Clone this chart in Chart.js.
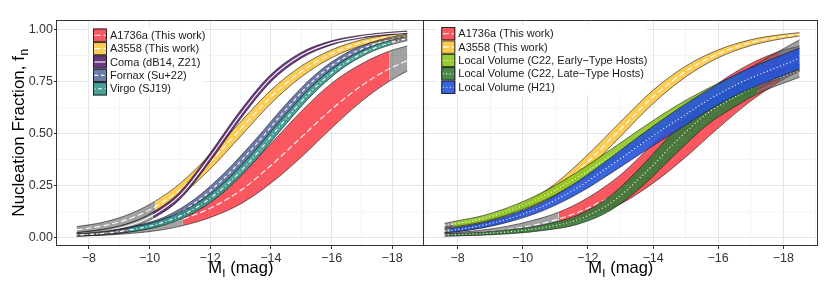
<!DOCTYPE html>
<html><head><meta charset="utf-8">
<script src="https://cdn.jsdelivr.net/npm/chart.js"></script>
<style>
html,body{margin:0;padding:0;background:#fff;}
#wrap{position:relative;width:830px;height:281px;overflow:hidden;background:#fff;}
canvas{position:absolute;top:0;}
</style></head><body>
<div id="wrap">
<canvas id="cL" width="430" height="281" style="left:0;width:430px;height:281px"></canvas>
<canvas id="cR" width="407" height="281" style="left:423px;width:407px;height:281px"></canvas>
</div>
<script>
// ---------- tick values ----------
const X_TICKS = [-7,-8,-9,-10,-11,-12,-13,-14,-15,-16,-17,-18,-19];
const Y_TICKS = [0,0.125,0.25,0.375,0.5,0.625,0.75,0.875,1];

// ---------- A1736a (This work) ----------
const A1736A_MAG    = [-7.6,-8.5,-9.5,-10.3,-11.1,-12,-13,-14,-15,-16,-17,-17.9,-18.5];
const A1736A_UPPER  = [0.018,0.030,0.052,0.081,0.120,0.190,0.300,0.450,0.605,0.740,0.835,0.895,0.920];
const A1736A_CENTRE = [0.012,0.020,0.036,0.057,0.088,0.140,0.225,0.345,0.480,0.615,0.730,0.810,0.850];
const A1736A_LOWER  = [0.006,0.010,0.020,0.033,0.056,0.095,0.160,0.260,0.385,0.525,0.655,0.750,0.800];
const A1736A_RANGE  = [-11.1,-17.9];

// ---------- A3558 (This work) ----------
const A3558_MAG    = [-7.6,-8.5,-9.4,-10.2,-11,-12,-13,-14,-15,-16,-17,-18,-18.5];
const A3558_UPPER  = [0.051,0.073,0.115,0.175,0.258,0.398,0.555,0.707,0.823,0.901,0.950,0.976,0.984];
const A3558_CENTRE = [0.036,0.056,0.093,0.148,0.228,0.363,0.520,0.675,0.797,0.882,0.936,0.966,0.976];
const A3558_LOWER  = [0.021,0.039,0.071,0.121,0.197,0.328,0.485,0.643,0.771,0.863,0.922,0.956,0.968];
const A3558_RANGE  = [-10.2,-18.5];

// ---------- Coma (dB14, Z21) ----------
const COMA_MAG    = [-7.6,-8.5,-9.3,-10.1,-11,-12,-13,-14,-15,-16,-17,-18,-18.5];
const COMA_UPPER  = [0.023,0.038,0.066,0.120,0.218,0.406,0.611,0.783,0.889,0.945,0.972,0.987,0.992];
const COMA_CENTRE = [0.016,0.030,0.055,0.105,0.200,0.385,0.590,0.765,0.875,0.935,0.965,0.981,0.986];
const COMA_LOWER  = [0.009,0.022,0.044,0.090,0.182,0.364,0.569,0.747,0.861,0.925,0.958,0.975,0.980];
const COMA_RANGE  = [-10.1,-18.5];

// ---------- Fornax (Su+22) ----------
const FORNAX_MAG    = [-7.6,-8.5,-9.5,-10.5,-11.5,-12.5,-13.5,-14.5,-15.5,-16.5,-17.3,-18,-18.5];
const FORNAX_UPPER  = [0.017,0.029,0.054,0.098,0.185,0.314,0.471,0.640,0.787,0.887,0.936,0.964,0.978];
const FORNAX_CENTRE = [0.011,0.021,0.042,0.082,0.165,0.290,0.445,0.615,0.767,0.871,0.923,0.952,0.966];
const FORNAX_LOWER  = [0.005,0.013,0.030,0.066,0.145,0.266,0.419,0.590,0.747,0.855,0.910,0.940,0.954];
const FORNAX_RANGE  = [-8.5,-17.3];

// ---------- Virgo (SJ19) ----------
const VIRGO_MAG    = [-7.6,-8.5,-9.3,-10.3,-11.3,-12.3,-13.3,-14.3,-15.3,-16.3,-17.2,-18,-18.5];
const VIRGO_UPPER  = [0.0155,0.026,0.044,0.079,0.141,0.243,0.389,0.560,0.720,0.840,0.910,0.950,0.966];
const VIRGO_CENTRE = [0.0105,0.019,0.034,0.065,0.123,0.221,0.364,0.535,0.698,0.823,0.897,0.939,0.956];
const VIRGO_LOWER  = [0.0055,0.012,0.024,0.051,0.105,0.199,0.339,0.510,0.676,0.806,0.884,0.928,0.946];
const VIRGO_RANGE  = [-9.3,-18.0];

// ---------- Local Volume (C22, Early-Type Hosts) ----------
const LVE_MAG    = [-7.6,-7.85,-8.8,-9.8,-10.8,-11.8,-12.8,-13.8,-14.8,-15.8,-16.8,-17.7,-18.5];
const LVE_UPPER  = [0.067,0.075,0.105,0.158,0.232,0.327,0.432,0.540,0.640,0.725,0.800,0.880,0.950];
const LVE_CENTRE = [0.055,0.062,0.090,0.140,0.210,0.300,0.400,0.502,0.595,0.675,0.740,0.815,0.875];
const LVE_LOWER  = [0.043,0.049,0.075,0.122,0.188,0.273,0.368,0.464,0.550,0.625,0.680,0.750,0.800];
const LVE_RANGE  = [-7.85,-16.8];

// ---------- Local Volume (C22, Late-Type Hosts) ----------
const LVL_MAG    = [-7.6,-7.7,-8.7,-9.7,-10.7,-11.7,-12.7,-13.7,-14.7,-15.7,-16.7,-17.2,-18.5];
const LVL_UPPER  = [0.015,0.016,0.024,0.038,0.062,0.107,0.200,0.350,0.518,0.655,0.735,0.770,0.830];
const LVL_CENTRE = [0.010,0.011,0.017,0.028,0.048,0.085,0.165,0.300,0.460,0.600,0.690,0.730,0.800];
const LVL_LOWER  = [0.005,0.006,0.010,0.018,0.034,0.063,0.130,0.250,0.402,0.545,0.645,0.690,0.770];
const LVL_RANGE  = [-7.7,-17.2];

// ---------- Local Volume (H21) ----------
const H21_MAG    = [-7.6,-7.75,-8.7,-9.7,-10.7,-11.7,-12.7,-13.7,-14.7,-15.7,-16.7,-17.7,-18.5];
const H21_UPPER  = [0.038,0.041,0.067,0.111,0.177,0.270,0.383,0.500,0.610,0.710,0.795,0.860,0.910];
const H21_CENTRE = [0.030,0.032,0.055,0.095,0.155,0.240,0.345,0.455,0.560,0.660,0.745,0.810,0.860];
const H21_LOWER  = [0.022,0.023,0.043,0.079,0.133,0.210,0.307,0.410,0.510,0.610,0.695,0.760,0.810];
const H21_RANGE  = [-7.75,-18.5];

// ---------- styling ----------
const FONT = "'Liberation Sans', Arial, Helvetica, sans-serif";
const GREY = 'rgba(95,95,95,0.58)';
const EDGE = '#151515';
const DASH = { longdash:[6,3], dashed:[3.5,3], solid:[], dotdash:[1,2.5,4,2.5], dotted:[1,2.5] };

const BAND_A1736A = {label:'A1736a (This work)', mag:A1736A_MAG, up:A1736A_UPPER, mid:A1736A_CENTRE, lo:A1736A_LOWER, range:A1736A_RANGE, color:'rgba(250,70,80,0.9)', dash:DASH.longdash};
const BAND_A3558  = {label:'A3558 (This work)', mag:A3558_MAG, up:A3558_UPPER, mid:A3558_CENTRE, lo:A3558_LOWER, range:A3558_RANGE, color:'rgba(253,198,65,0.9)', dash:DASH.longdash};
const BAND_COMA   = {label:'Coma (dB14, Z21)', mag:COMA_MAG, up:COMA_UPPER, mid:COMA_CENTRE, lo:COMA_LOWER, range:COMA_RANGE, color:'rgba(88,36,112,0.9)', dash:DASH.solid};
const BAND_FORNAX = {label:'Fornax (Su+22)', mag:FORNAX_MAG, up:FORNAX_UPPER, mid:FORNAX_CENTRE, lo:FORNAX_LOWER, range:FORNAX_RANGE, color:'rgba(92,109,158,0.9)', dash:DASH.dashed};
const BAND_VIRGO  = {label:'Virgo (SJ19)', mag:VIRGO_MAG, up:VIRGO_UPPER, mid:VIRGO_CENTRE, lo:VIRGO_LOWER, range:VIRGO_RANGE, color:'rgba(52,149,138,0.9)', dash:DASH.dotdash};
const BAND_LVE    = {label:'Local Volume (C22, Early\u2212Type Hosts)', mag:LVE_MAG, up:LVE_UPPER, mid:LVE_CENTRE, lo:LVE_LOWER, range:LVE_RANGE, color:'rgba(142,198,28,0.9)', dash:DASH.dotted};
const BAND_LVL    = {label:'Local Volume (C22, Late\u2212Type Hosts)', mag:LVL_MAG, up:LVL_UPPER, mid:LVL_CENTRE, lo:LVL_LOWER, range:LVL_RANGE, color:'rgba(57,123,57,0.9)', dash:DASH.dotted};
const BAND_H21    = {label:'Local Volume (H21)', mag:H21_MAG, up:H21_UPPER, mid:H21_CENTRE, lo:H21_LOWER, range:H21_RANGE, color:'rgba(38,83,216,0.9)', dash:DASH.dotted};

const LEFT_BANDS  = [BAND_A1736A, BAND_A3558, BAND_COMA, BAND_FORNAX, BAND_VIRGO];
const RIGHT_BANDS = [BAND_A1736A, BAND_A3558, BAND_LVE, BAND_LVL, BAND_H21];

function pts(mag, vals){ return mag.map((m,i)=>({x:m, y:vals[i]})); }

function bandDatasets(band, b){
  const r0 = band.range[0] + 1e-6, r1 = band.range[1] - 1e-6;
  const inR = v => v <= r0 && v >= r1;
  const common = {pointRadius:0, pointHoverRadius:0, cubicInterpolationMode:'monotone', borderCapStyle:'butt', borderJoinStyle:'round'};
  const base = 100 - 10*b;
  return [
    Object.assign({label:band.label+' upper', data:pts(band.mag, band.up), fill:'+1', backgroundColor:band.color,
      borderColor:EDGE, borderWidth:0.6, order:base+3,
      segment:{backgroundColor: c => (inR(c.p0.parsed.x) && inR(c.p1.parsed.x)) ? band.color : GREY}}, common),
    Object.assign({label:band.label+' lower', data:pts(band.mag, band.lo), fill:false,
      borderColor:EDGE, borderWidth:0.6, order:base+2}, common),
    Object.assign({label:band.label, data:pts(band.mag, band.mid), fill:false,
      borderColor:'#ffffff', borderWidth:1.1, borderDash:band.dash, order:base+1}, common)
  ];
}

const isMajorX = v => Math.abs(v) % 2 === 0;
const isMajorY = v => Math.abs(Math.round(v*4) - v*4) < 1e-6;
const MAJ = '#e6e6e6', MIN = '#efefef';

function xScale(){
  return {
    type:'linear', min:-19.05, max:-6.95, reverse:true,
    afterBuildTicks: s => { s.ticks = X_TICKS.map(v=>({value:v})); },
    afterFit: s => { s.height = 35; },
    border:{display:false},
    grid:{
      color: c => (c.tick && isMajorX(c.tick.value)) ? MAJ : MIN,
      lineWidth: c => (c.tick && isMajorX(c.tick.value)) ? 1 : 0.6,
      drawTicks:true, tickLength:3,
      tickColor: c => (c.tick && isMajorX(c.tick.value)) ? '#333' : 'rgba(0,0,0,0)',
      tickWidth:1
    },
    ticks:{autoSkip:false, maxRotation:0, minRotation:0, padding:2, color:'#333',
      font:{family:FONT, size:12.5},
      callback: v => isMajorX(v) ? '\u2212' + Math.abs(v) : ''}
  };
}
function yScale(showLabels){
  return {
    type:'linear', min:-0.042, max:1.045,
    afterBuildTicks: s => { s.ticks = Y_TICKS.map(v=>({value:v})); },
    afterFit: s => { s.width = showLabels ? 57 : 0; },
    border:{display:false},
    grid:{
      color: c => (c.tick && isMajorY(c.tick.value)) ? MAJ : MIN,
      lineWidth: c => (c.tick && isMajorY(c.tick.value)) ? 1 : 0.6,
      drawTicks: showLabels, tickLength:3,
      tickColor: c => (c.tick && isMajorY(c.tick.value)) ? '#333' : 'rgba(0,0,0,0)',
      tickWidth:1
    },
    ticks:{display:showLabels, autoSkip:false, padding:1, color:'#333',
      font:{family:FONT, size:12.5},
      callback: v => isMajorY(v) ? v.toFixed(2) : ''}
  };
}

function drawLegend(ctx, bands, x0, y0){
  const kw = 14, kh = 13.4;
  ctx.save();
  ctx.font = '11px ' + FONT;
  let maxw = 0;
  bands.forEach(b => { maxw = Math.max(maxw, ctx.measureText(b.label).width); });
  ctx.fillStyle = '#ffffff';
  ctx.fillRect(x0-4, y0-2, kw + 3 + maxw + 3, kh*bands.length + 3);
  bands.forEach((b,i) => {
    const y = y0 + i*kh;
    ctx.fillStyle = '#ffffff'; ctx.fillRect(x0, y, kw, kh);
    ctx.fillStyle = b.color; ctx.fillRect(x0, y, kw, kh);
    ctx.strokeStyle = '#ffffff'; ctx.lineWidth = 1.1; ctx.setLineDash(b.dash);
    ctx.beginPath(); ctx.moveTo(x0+1.5, y+kh/2); ctx.lineTo(x0+kw-1.5, y+kh/2); ctx.stroke();
    ctx.setLineDash([]);
    ctx.strokeStyle = '#1a1a1a'; ctx.lineWidth = 0.9; ctx.strokeRect(x0+0.5, y+0.5, kw-1, kh-1);
    ctx.fillStyle = '#1a1a1a'; ctx.textBaseline = 'middle'; ctx.textAlign = 'left';
    ctx.fillText(b.label, x0 + kw + 3, y + kh/2 + 0.5);
  });
  ctx.restore();
}

function drawXTitle(ctx, cx, baseY){
  ctx.save();
  ctx.fillStyle = '#000'; ctx.textBaseline = 'alphabetic'; ctx.textAlign = 'left';
  const big = '16.5px ' + FONT, small = '11.5px ' + FONT;
  ctx.font = big; const w1 = ctx.measureText('M').width; const w3 = ctx.measureText(' (mag)').width;
  ctx.font = small; const w2 = ctx.measureText('I').width;
  let x = cx - (w1+w2+w3)/2;
  ctx.font = big; ctx.fillText('M', x, baseY); x += w1;
  ctx.font = small; ctx.fillText('I', x + 0.3, baseY + 3.5); x += w2 + 0.6;
  ctx.font = big; ctx.fillText(' (mag)', x, baseY);
  ctx.restore();
}
function drawYTitle(ctx, bx, cy){
  ctx.save();
  ctx.translate(bx, cy); ctx.rotate(-Math.PI/2);
  ctx.fillStyle = '#000'; ctx.textBaseline = 'alphabetic'; ctx.textAlign = 'left';
  const big = '17px ' + FONT, small = '12px ' + FONT;
  const main = 'Nucleation Fraction, f';
  ctx.font = big; const w1 = ctx.measureText(main).width;
  ctx.font = small; const w2 = ctx.measureText('n').width;
  const s = -(w1+w2)/2;
  ctx.font = big; ctx.fillText(main, s, 0);
  ctx.font = small; ctx.fillText('n', s + w1 + 0.5, 4);
  ctx.restore();
}

function makePlugin(cfg){
  return {
    id:'panelDecor',
    afterDatasetsDraw(chart){
      const ctx = chart.ctx;
      ctx.save(); ctx.strokeStyle = '#333'; ctx.lineWidth = 1;
      const f = cfg.frame; ctx.strokeRect(f[0], f[1], f[2]-f[0], f[3]-f[1]);
      ctx.restore();
    },
    afterDraw(chart){
      const ctx = chart.ctx, a = chart.chartArea;
      drawLegend(ctx, cfg.bands, cfg.legend[0], cfg.legend[1]);
      drawXTitle(ctx, (a.left + a.right)/2, 273);
      if (cfg.yTitle) drawYTitle(ctx, 24, 133);
    }
  };
}

function makeChart(id, bands, showY, padRight, frame, legendPos){
  const datasets = [];
  bands.forEach((b,i) => datasets.push(...bandDatasets(b,i)));
  return new Chart(document.getElementById(id), {
    type:'line',
    data:{datasets},
    options:{
      responsive:false, devicePixelRatio:1, animation:false, events:[],
      layout:{padding:{left:0, right:padRight, top:20, bottom:0}},
      scales:{x:xScale(), y:yScale(showY)},
      plugins:{legend:{display:false}, tooltip:{enabled:false}, filler:{drawTime:'beforeDatasetDraw', propagate:false}}
    },
    plugins:[makePlugin({bands, frame, legend:legendPos, yTitle:showY})]
  });
}

Chart.defaults.font.family = FONT;
makeChart('cL', LEFT_BANDS, true, 6, [56.5, 20.5, 423.5, 245.5], [93, 28.5]);
makeChart('cR', RIGHT_BANDS, false, 12.5, [0.5, 20.5, 394.5, 245.5], [18.3, 27]);
</script>
</body></html>
